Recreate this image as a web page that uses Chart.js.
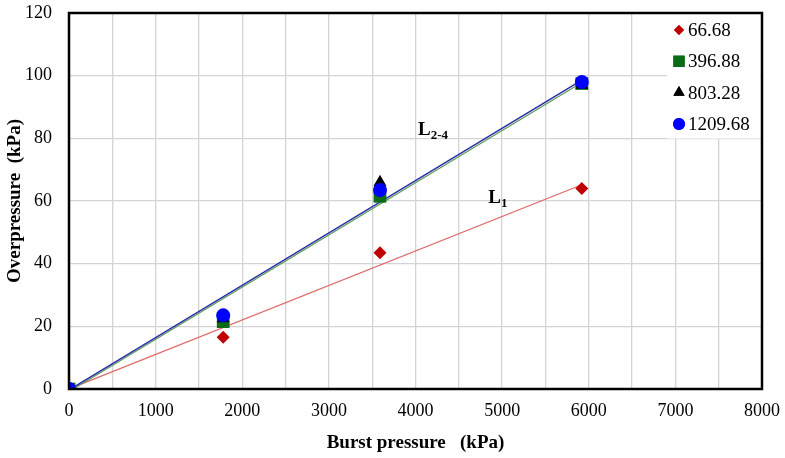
<!DOCTYPE html>
<html>
<head>
<meta charset="utf-8">
<script src="https://cdn.jsdelivr.net/npm/chart.js@4/dist/chart.umd.min.js"></script>
<style>
html,body{margin:0;padding:0;background:#fff;}
#wrap{width:785px;height:458px;position:relative;}
</style>
</head>
<body>
<div id="wrap"><canvas id="c" width="785" height="458"></canvas></div>
<script>
// ---- data ----
const burstPressure = [0, 1780, 3590, 5920];
const seriesNames = ['66.68', '396.88', '803.28', '1209.68'];
const s66 = [0, 16.5, 43.5, 64];
const s396 = [0, 21.5, 61.5, 97.5];
const s803 = [0, 22.5, 66, 97];
const s1209 = [0, 23.5, 63.5, 98];
const trendX = [0, 5920];
const trendL1 = [0, 65.2];
const trendL24blue = [-0.3, 98.6];
const trendL24green = [-0.8, 97.8];
const xTicks = [0, 1000, 2000, 3000, 4000, 5000, 6000, 7000, 8000];
const yTicks = [0, 20, 40, 60, 80, 100, 120];
const lineLabels = [{main: 'L', sub: '2-4', x: 4030, y: 82.5}, {main: 'L', sub: '1', x: 4840, y: 60.8}];

const pts = (xs, ys) => xs.map((x, i) => ({x: x, y: ys[i]}));
const serif = '"Liberation Serif", "DejaVu Serif", serif';

const markerStyles = [
  {color: '#c00000', style: 'rectRot', r: 6.5, lr: 5},
  {color: '#0b6b16', style: 'rect', r: 9, lr: 8},
  {color: '#000000', style: 'triangle', r: 7.5, lr: 6.5},
  {color: '#0000ff', style: 'circle', r: 7, lr: 6}
];
const seriesData = [s66, s396, s803, s1209];

const datasets = seriesData.map((vals, i) => ({
  label: seriesNames[i],
  data: pts(burstPressure, vals),
  showLine: false,
  pointStyle: markerStyles[i].style,
  pointRadius: markerStyles[i].r,
  pointHoverRadius: markerStyles[i].r,
  backgroundColor: markerStyles[i].color,
  borderColor: markerStyles[i].color,
  borderWidth: 0,
  order: 4 - i
}));
datasets.push({label: 'L1', data: pts(trendX, trendL1), showLine: true, pointRadius: 0, borderColor: '#e06666', borderWidth: 1.2, order: 10});
datasets.push({label: 'L24g', data: pts(trendX, trendL24green), showLine: true, pointRadius: 0, borderColor: '#5a9a5a', borderWidth: 1.2, order: 9});
datasets.push({label: 'L24b', data: pts(trendX, trendL24blue), showLine: true, pointRadius: 0, borderColor: '#2a2aa8', borderWidth: 1.4, order: 8});

const borderPlugin = {
  id: 'border',
  afterDraw(chart) {
    const a = chart.chartArea, ctx = chart.ctx;
    ctx.save();
    ctx.strokeStyle = '#000'; ctx.lineWidth = 2.5;
    ctx.strokeRect(a.left, a.top, a.right - a.left, a.bottom - a.top);
    ctx.restore();
  }
};

const labelPlugin = {
  id: 'lineLabels',
  afterDatasetsDraw(chart) {
    const ctx = chart.ctx, xs = chart.scales.x, ys = chart.scales.y;
    ctx.save();
    ctx.fillStyle = '#000';
    ctx.textBaseline = 'middle';
    lineLabels.forEach(l => {
      const px = xs.getPixelForValue(l.x), py = ys.getPixelForValue(l.y);
      ctx.font = 'bold 19px ' + serif;
      ctx.textAlign = 'left';
      ctx.fillText(l.main, px, py);
      const w = ctx.measureText(l.main).width;
      ctx.font = 'bold 13px ' + serif;
      ctx.fillText(l.sub, px + w, py + 5);
    });
    ctx.restore();
  }
};

const legendPlugin = {
  id: 'customLegend',
  afterDraw(chart) {
    const ctx = chart.ctx, a = chart.chartArea;
    ctx.save();
    ctx.fillStyle = '#fff';
    ctx.fillRect(667, a.top + 1.5, a.right - 668.5, 124);
    ctx.font = '19px ' + serif;
    ctx.textBaseline = 'middle';
    ctx.textAlign = 'left';
    seriesNames.forEach((n, i) => {
      const y = 30 + i * 31.3;
      const m = markerStyles[i];
      ctx.fillStyle = m.color; ctx.strokeStyle = m.color; ctx.lineWidth = 0;
      Chart.helpers.drawPoint(ctx, {pointStyle: m.style, radius: m.lr, rotation: 0, borderWidth: 0}, 679, y);
      ctx.fill();
      ctx.fillStyle = '#000';
      ctx.fillText(n, 688, y + 1);
    });
    ctx.restore();
  }
};

const zeroPad = s => { s.paddingTop = 0; s.paddingBottom = 0; s.paddingLeft = 0; s.paddingRight = 0; };

new Chart(document.getElementById('c'), {
  type: 'scatter',
  data: {datasets: datasets},
  plugins: [labelPlugin, legendPlugin, borderPlugin],
  options: {
    responsive: false,
    animation: false,
    events: [],
    layout: {padding: {top: 13, right: 23, left: 0, bottom: 0}},
    plugins: {legend: {display: false}, tooltip: {enabled: false}},
    scales: {
      x: {
        type: 'linear', min: 0, max: 8000,
        afterFit(s) { s.height = 69; zeroPad(s); },
        afterBuildTicks(s) { const t = []; for (let v = 0; v <= 8000; v += 500) t.push({value: v}); s.ticks = t; },
        ticks: {
          autoSkip: false, maxRotation: 0, padding: 11,
          color: '#000', font: {family: serif, size: 18},
          callback: v => xTicks.includes(v) ? String(v) : ''
        },
        grid: {color: '#d4d4d4', lineWidth: 1.3, drawTicks: false},
        border: {display: false},
        title: {display: true, text: 'Burst pressure   (kPa)', color: '#000', font: {family: serif, size: 19, weight: 'bold'}, padding: {top: 4}}
      },
      y: {
        type: 'linear', min: 0, max: 120,
        afterFit(s) { s.width = 69; zeroPad(s); },
        afterBuildTicks(s) { s.ticks = yTicks.map(v => ({value: v})); },
        ticks: {color: '#000', font: {family: serif, size: 18}, padding: 17},
        grid: {color: '#d4d4d4', lineWidth: 1.3, drawTicks: false},
        border: {display: false},
        title: {display: true, text: 'Overpressure  (kPa)', color: '#000', font: {family: serif, size: 19, weight: 'bold'}, padding: {bottom: 2}}
      }
    }
  }
});
</script>
</body>
</html>
